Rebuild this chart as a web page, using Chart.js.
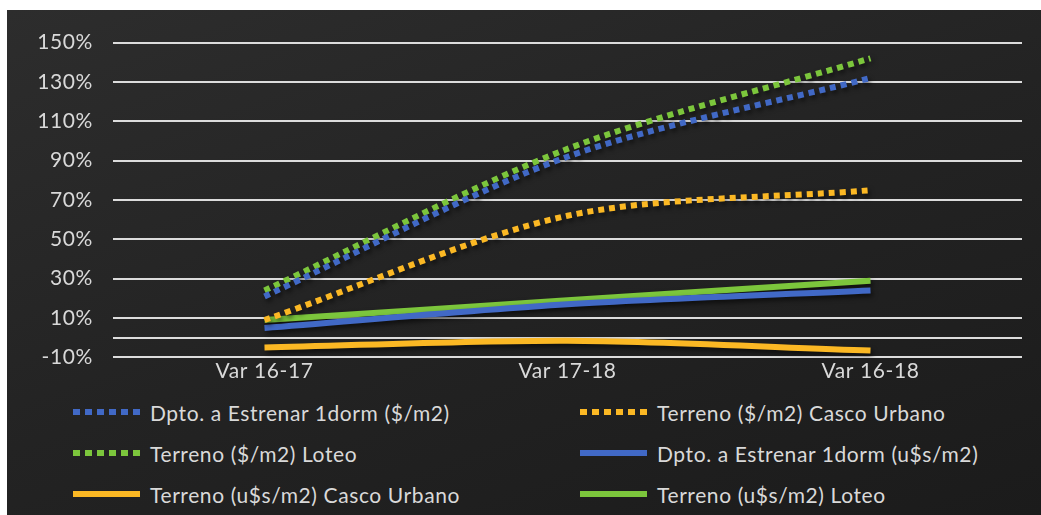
<!DOCTYPE html>
<html>
<head>
<meta charset="utf-8">
<script src="https://cdn.jsdelivr.net/npm/chart.js@4.4.1/dist/chart.umd.min.js"></script>
<style>
    html, body { margin: 0; padding: 0; background: #fff; }
    #panel {
        position: absolute; left: 7px; top: 10px; width: 1034px; height: 505px;
        background: linear-gradient(160deg, #2d2d2d 0%, #232323 50%, #1b1b1b 100%);
        font-family: Lato, "Open Sans", sans-serif;
    }
    #wrap { position: absolute; left: 0; top: 0; width: 1034px; height: 380px; }
    #legend { position: absolute; left: 0; top: 390px; width: 1034px; }
    .item {
        position: absolute; height: 24px; display: flex; align-items: center;
        color: #d9d9d9; font-size: 21px; letter-spacing: 0.6px; white-space: nowrap;
    }
    .mark { width: 67px; height: 6px; margin-right: 10px; }
</style>
</head>
<body>
<div id="panel">
    <div id="wrap"><canvas id="lineChart"></canvas></div>
    <div id="legend"></div>
</div>
<script>
var categories = ['Var 16-17', 'Var 17-18', 'Var 16-18'];
var yTicks = [-10, 0, 10, 30, 50, 70, 90, 110, 130, 150];

// valeurs en %
var dptoPesos = [21, 92, 132];
var cascoPesos = [9, 62, 75];
var loteoPesos = [24, 96, 142];
var dptoDolares = [5, 17, 24];
var cascoDolares = [-5, -1.5, -6.5];
var loteoDolares = [9, 19, 29];

var blue = '#4169c6';
var orange = '#fbb824';
var green = '#7cc63c';

var series = [
    { label: 'Dpto. a Estrenar 1dorm ($/m2)', data: dptoPesos, color: blue, dotted: true },
    { label: 'Terreno ($/m2) Casco Urbano', data: cascoPesos, color: orange, dotted: true },
    { label: 'Terreno ($/m2) Loteo', data: loteoPesos, color: green, dotted: true },
    { label: 'Dpto. a Estrenar 1dorm (u$s/m2)', data: dptoDolares, color: blue, dotted: false },
    { label: 'Terreno (u$s/m2) Casco Urbano', data: cascoDolares, color: orange, dotted: false },
    { label: 'Terreno (u$s/m2) Loteo', data: loteoDolares, color: green, dotted: false }
];

var spacing = {
    id: 'spacing',
    beforeUpdate: function (chart) { chart.ctx.letterSpacing = '0.6px'; },
    beforeDraw: function (chart) { chart.ctx.letterSpacing = '0.6px'; }
};

var shadow = {
    id: 'shadow',
    beforeDatasetsDraw: function (chart) {
        var ctx = chart.ctx;
        ctx.save();
        ctx.shadowColor = 'rgba(0,0,0,0.6)';
        ctx.shadowBlur = 5;
        ctx.shadowOffsetX = 2;
        ctx.shadowOffsetY = 3;
    },
    afterDatasetsDraw: function (chart) {
        chart.ctx.restore();
    }
};

new Chart(document.getElementById('lineChart'), {
    type: 'line',
    data: {
        labels: categories,
        datasets: series.map(function (s) {
            return {
                label: s.label,
                data: s.data,
                borderColor: s.color,
                backgroundColor: s.color,
                borderWidth: 6,
                borderDash: s.dotted ? [6, 5] : [],
                borderCapStyle: 'butt',
                pointRadius: 0,
                fill: false,
                tension: 0.3
            };
        })
    },
    options: {
        responsive: true,
        maintainAspectRatio: false,
        animation: false,
        layout: { padding: { top: 26, right: 19, left: 0, bottom: 0 } },
        plugins: {
            legend: { display: false },
            tooltip: { enabled: false }
        },
        scales: {
            x: {
                offset: true,
                grid: { display: false, drawTicks: false },
                border: { display: false },
                ticks: {
                    color: '#d9d9d9',
                    padding: 1,
                    font: { family: 'Lato', size: 21 }
                },
                afterFit: function (scale) { scale.height = 30; }
            },
            y: {
                min: -10,
                max: 150,
                afterBuildTicks: function (scale) {
                    scale.ticks = yTicks.map(function (v) { return { value: v }; });
                },
                grid: { color: '#dcdcdc', lineWidth: 2, drawTicks: false },
                border: { display: false },
                ticks: {
                    color: '#d9d9d9',
                    padding: 20,
                    font: { family: 'Lato', size: 21 },
                    callback: function (v) { return v === 0 ? '' : v + '%'; }
                },
                afterFit: function (scale) { scale.width = 106; }
            }
        }
    },
    plugins: [spacing, shadow]
});

// légende
var legend = document.getElementById('legend');
series.forEach(function (s, i) {
    var item = document.createElement('div');
    item.className = 'item';
    item.style.left = (i % 2 === 0 ? 66 : 573) + 'px';
    item.style.top = (Math.floor(i / 2) * 41) + 'px';
    var mark = document.createElement('div');
    mark.className = 'mark';
    mark.style.background = s.dotted
        ? 'repeating-linear-gradient(90deg, ' + s.color + ' 0 7px, transparent 7px 12px)'
        : s.color;
    item.appendChild(mark);
    item.appendChild(document.createTextNode(s.label));
    legend.appendChild(item);
});
</script>
</body>
</html>
